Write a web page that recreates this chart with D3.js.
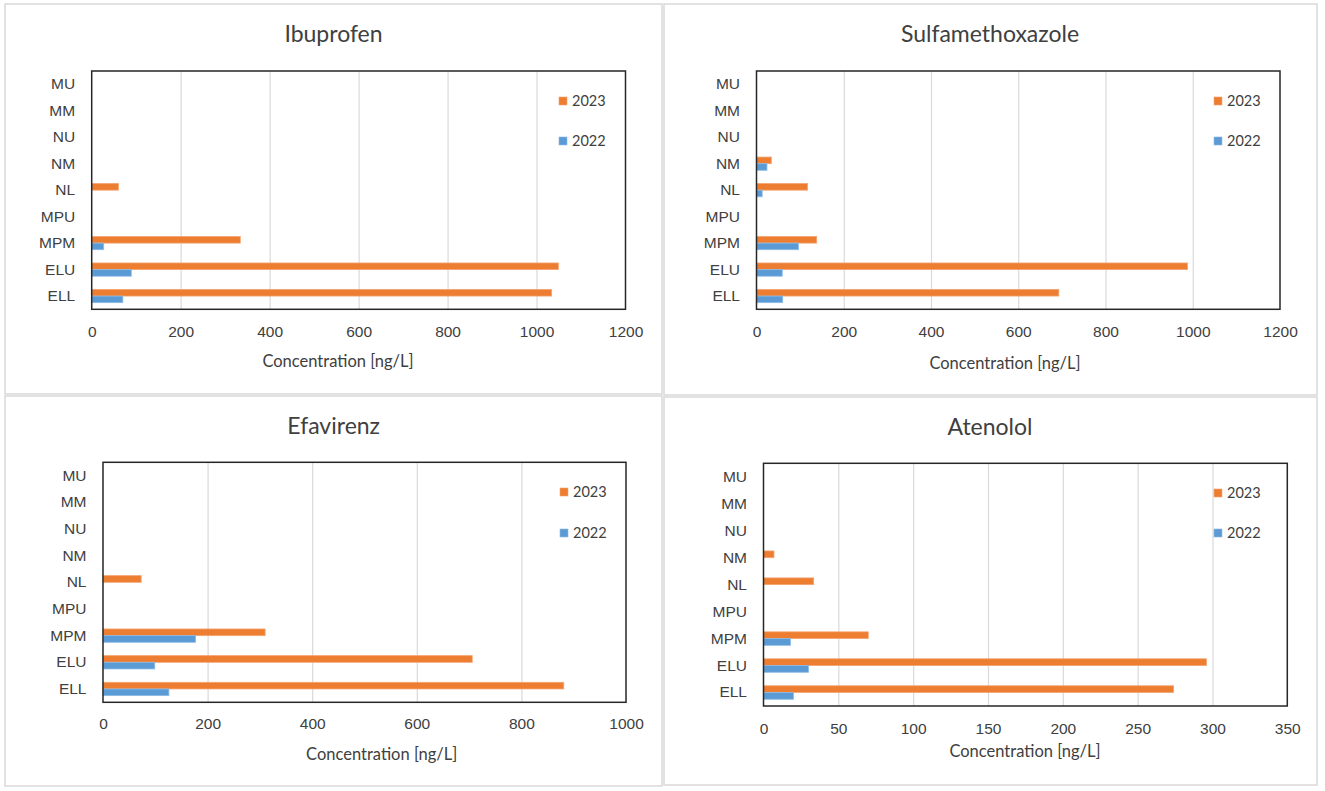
<!DOCTYPE html>
<html>
<head>
<meta charset="utf-8">
<script src="https://cdn.jsdelivr.net/npm/d3@7"></script>
<style>
  body { margin: 0; background: #fff; }
  svg { display: block; font-family: Lato, "Open Sans", sans-serif; }
</style>
</head>
<body>
<script>
const categories = ["MU", "MM", "NU", "NM", "NL", "MPU", "MPM", "ELU", "ELL"];
const years = ["2023", "2022"];

// values, null = no bar
const ibuprofen2023 = [null, null, null, null, 60, null, 334, 1049, 1034];
const ibuprofen2022 = [null, null, null, null, null, null, 27, 89, 70];
const sulfamethoxazole2023 = [null, null, null, 34, 117, null, 138, 988, 693];
const sulfamethoxazole2022 = [null, null, null, 24, 13, null, 96, 59, 60];
const efavirenz2023 = [null, null, null, null, 73, null, 310, 706, 881];
const efavirenz2022 = [null, null, null, null, null, null, 177, 99, 126];
const atenolol2023 = [null, null, null, 7, 33.5, null, 70, 296, 274];
const atenolol2022 = [null, null, null, null, null, null, 18, 30, 20];

const ticks1200 = [0, 200, 400, 600, 800, 1000, 1200];
const ticks1000 = [0, 200, 400, 600, 800, 1000];
const ticks350 = [0, 50, 100, 150, 200, 250, 300, 350];

const axisTitle = "Concentration [ng/L]";
const colors = { "2023": "#ED7D31", "2022": "#5B9BD5" };
const strokes = { "2023": "#F4A470", "2022": "#8DBBE5" };

const charts = [
  { title: "Ibuprofen", v2023: ibuprofen2023, v2022: ibuprofen2022, ticks: ticks1200,
    box: [5, 4, 657, 390], plot: { l: 91.7, t: 71, r: 625.5, b: 309.3 },
    titleX: 333.5, titleY: 34, tickY: 331, axX: 338, axY: 361, legX: 559, legY: [101, 141] },
  { title: "Sulfamethoxazole", v2023: sulfamethoxazole2023, v2022: sulfamethoxazole2022, ticks: ticks1200,
    box: [664, 4, 653, 391], plot: { l: 756.5, t: 71, r: 1280, b: 309.3 },
    titleX: 990, titleY: 34, tickY: 331, axX: 1005, axY: 363, legX: 1214, legY: [101, 141] },
  { title: "Efavirenz", v2023: efavirenz2023, v2022: efavirenz2022, ticks: ticks1000,
    box: [5, 396, 657, 390], plot: { l: 103, t: 462.3, r: 626, b: 702.3 },
    titleX: 333.7, titleY: 426, tickY: 723.5, axX: 381.7, axY: 754, legX: 560, legY: [492, 533] },
  { title: "Atenolol", v2023: atenolol2023, v2022: atenolol2022, ticks: ticks350,
    box: [664, 397, 653, 388], plot: { l: 763.5, t: 463.3, r: 1287.3, b: 706 },
    titleX: 990, titleY: 427, tickY: 728, axX: 1025, axY: 751, legX: 1214, legY: [493, 533] }
];

const svg = d3.select("body").append("svg")
  .attr("width", 1325)
  .attr("height", 791);

charts.forEach(c => {
  const g = svg.append("g");
  const p = c.plot;

  // panel frame
  g.append("rect")
    .attr("x", c.box[0]).attr("y", c.box[1])
    .attr("width", c.box[2]).attr("height", c.box[3])
    .attr("fill", "#fff")
    .attr("stroke", "#d9d9d9")
    .attr("stroke-width", 1.5);

  const x = d3.scaleLinear()
    .domain([0, d3.max(c.ticks)])
    .range([p.l, p.r]);

  const y = d3.scaleBand()
    .domain(categories)
    .range([p.t, p.b])
    .paddingInner(0.5)
    .paddingOuter(0.25);

  const ySub = d3.scaleBand()
    .domain(years)
    .range([0, y.bandwidth()]);

  // gridlines
  g.append("g")
    .attr("transform", `translate(0,${p.b})`)
    .call(d3.axisBottom(x).tickValues(c.ticks.slice(1, -1)).tickSize(-(p.b - p.t)).tickFormat(""))
    .call(a => a.select(".domain").remove())
    .call(a => a.selectAll("line").attr("stroke", "#d9d9d9").attr("stroke-width", 1.2));

  // bars
  const rows = categories.map((cat, i) => ({ cat, "2023": c.v2023[i], "2022": c.v2022[i] }));
  rows.forEach(r => {
    years.forEach(yr => {
      if (r[yr] == null) return;
      g.append("rect")
        .attr("x", x(0))
        .attr("y", y(r.cat) + ySub(yr))
        .attr("width", x(r[yr]) - x(0))
        .attr("height", ySub.bandwidth())
        .attr("fill", colors[yr])
        .attr("stroke", strokes[yr])
        .attr("stroke-width", 0.8);
    });
  });

  // plot border
  g.append("rect")
    .attr("x", p.l).attr("y", p.t)
    .attr("width", p.r - p.l).attr("height", p.b - p.t)
    .attr("fill", "none")
    .attr("stroke", "#262626")
    .attr("stroke-width", 1.5);

  // x tick labels
  g.append("g")
    .attr("transform", `translate(0,${p.b})`)
    .call(d3.axisBottom(x).tickValues(c.ticks).tickSize(0).tickPadding(c.tickY - p.b - 5.5).tickFormat(d3.format("d")))
    .call(a => a.select(".domain").remove())
    .call(a => a.selectAll("text").attr("fill", "#404040").style("font-size", "15.5px"));

  // category labels
  g.append("g")
    .attr("transform", `translate(${p.l},0)`)
    .call(d3.axisLeft(y).tickSize(0).tickPadding(16.5))
    .call(a => a.select(".domain").remove())
    .call(a => a.selectAll("text").attr("fill", "#404040").style("font-size", "15.5px"));

  // title
  g.append("text")
    .attr("x", c.titleX).attr("y", c.titleY)
    .attr("dy", "0.35em")
    .attr("text-anchor", "middle")
    .attr("fill", "#404040")
    .style("font-size", "23px")
    .text(c.title);

  // axis title
  g.append("text")
    .attr("x", c.axX).attr("y", c.axY)
    .attr("dy", "0.35em")
    .attr("text-anchor", "middle")
    .attr("fill", "#404040")
    .style("font-size", "16.5px")
    .text(axisTitle);

  // legend
  years.forEach((yr, i) => {
    const ly = c.legY[i];
    g.append("rect")
      .attr("x", c.legX).attr("y", ly - 4)
      .attr("width", 8).attr("height", 8)
      .attr("fill", colors[yr])
      .attr("stroke", strokes[yr])
      .attr("stroke-width", 0.6);
    g.append("text")
      .attr("x", c.legX + 13).attr("y", ly)
      .attr("dy", "0.35em")
      .attr("fill", "#404040")
      .style("font-size", "14.5px")
      .text(yr);
  });
});
</script>
</body>
</html>
